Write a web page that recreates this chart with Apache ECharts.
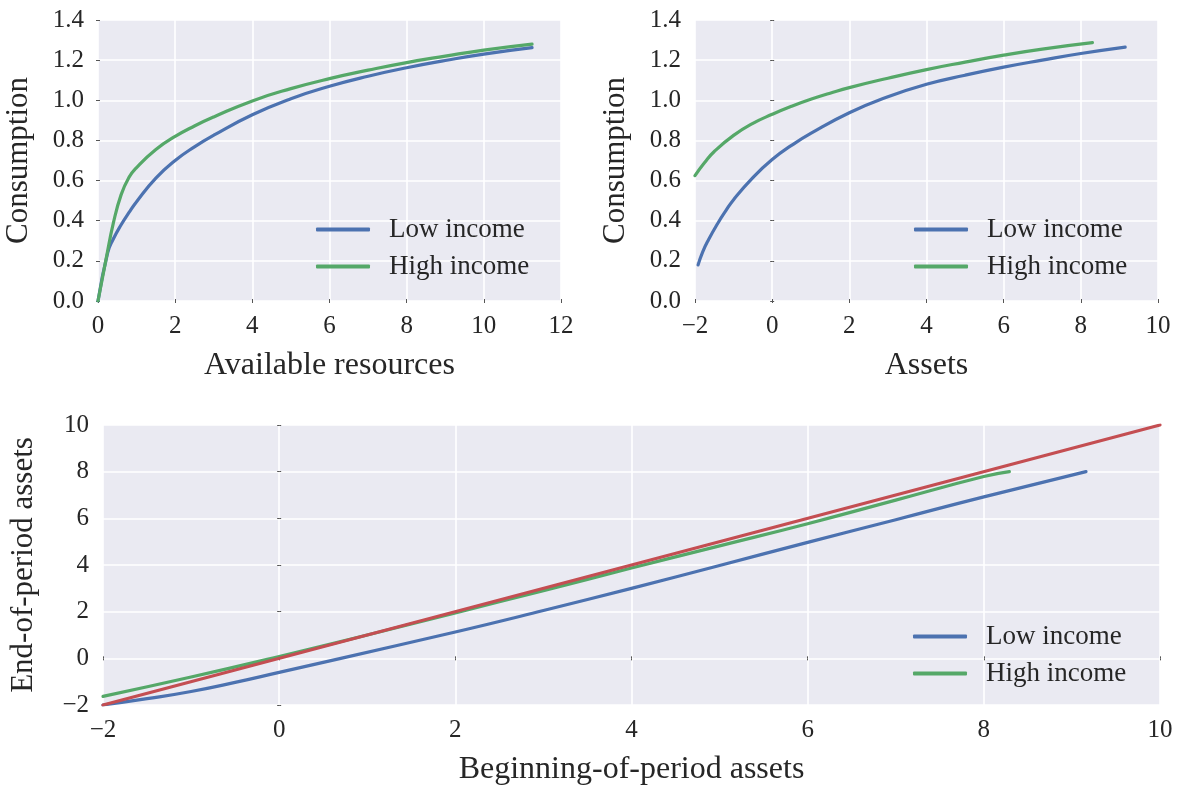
<!DOCTYPE html>
<html>
<head>
<meta charset="utf-8">
<script src="https://cdn.jsdelivr.net/npm/echarts@6/dist/echarts.min.js"></script>
<style>
  html, body { margin: 0; padding: 0; background: #ffffff; }
  #chart { width: 1178px; height: 787px; }
</style>
</head>
<body>
<div id="chart"></div>
<script>
// Consumption as a function of available resources (cash on hand)
const resLow = [0, 0.25, 0.4, 0.6, 0.8, 1.0, 1.5, 2.0, 2.5, 3, 4, 5, 6, 7, 8, 9, 10, 11.25];
const consResLow = [0, 0.24, 0.31, 0.38, 0.44, 0.495, 0.612, 0.70, 0.768, 0.826, 0.928, 1.008, 1.07, 1.12, 1.162, 1.198, 1.23, 1.262];
const resHigh = [0, 0.2, 0.4, 0.6, 0.8, 1.0, 1.5, 2.0, 2.5, 3, 4, 5, 6, 7, 8, 9, 10, 11.25];
const consResHigh = [0, 0.2, 0.39, 0.53, 0.615, 0.665, 0.755, 0.82, 0.872, 0.917, 0.997, 1.058, 1.108, 1.15, 1.188, 1.22, 1.25, 1.28];

// Consumption as a function of assets
const assetsLow = [-1.92, -1.8, -1.65, -1.4, -1.2, -1.0, -0.5, 0, 0.5, 1, 2, 3, 4, 5, 6, 7, 8, 9.15];
const consAssetsLow = [0.18, 0.245, 0.305, 0.39, 0.45, 0.505, 0.615, 0.705, 0.775, 0.835, 0.938, 1.018, 1.08, 1.125, 1.165, 1.2, 1.233, 1.265];
const assetsHigh = [-2, -1.75, -1.5, -1, -0.5, 0, 0.5, 1, 1.5, 2, 3, 4, 5, 6, 7, 8.3];
const consAssetsHigh = [0.625, 0.69, 0.745, 0.825, 0.885, 0.93, 0.97, 1.005, 1.035, 1.063, 1.11, 1.153, 1.19, 1.225, 1.255, 1.287];

// Savings rule: end-of-period assets vs beginning-of-period assets
const beginLow = [-2, -1.5, -1, -0.5, 0, 0.7, 2, 3, 4, 5, 6, 7, 8, 9.16];
const endLow = [-2, -1.73, -1.42, -1.03, -0.6, 0.0, 1.13, 2.05, 3.0, 3.98, 4.97, 5.94, 6.92, 8.0];
const beginHigh = [-2, -1, 0, 1, 2, 3, 4, 5, 6, 7, 8, 8.29];
const endHigh = [-1.63, -0.8, 0.08, 1.0, 1.95, 2.9, 3.87, 4.82, 5.77, 6.78, 7.79, 8.0];
const diagBegin = [-2, 10];
const diagEnd = [-2, 10];

const seriesNames = ['Low income', 'High income'];
const xTitles = ['Available resources', 'Assets', 'Beginning-of-period assets'];
const yTitles = ['Consumption', 'Consumption', 'End-of-period assets'];

const BLUE = '#4C72B0', GREEN = '#55A868', RED = '#C44E52';
const TXT = '#262626';
const FONT = '"Liberation Serif", "DejaVu Serif", serif';

const pairs = (xs, ys) => xs.map((x, i) => [x, ys[i]]);
const minus = v => String(v).replace('-', '\u2212');

const grids = [
  { left: 98, top: 20, width: 463, height: 281 },
  { left: 695, top: 20, width: 463, height: 281 },
  { left: 98, top: 425, width: 1062, height: 282 }
];
const xRanges = [[0, 12, 2], [-2, 10, 2], [-2, 10, 2]];
const yRanges = [[0, 1.4, 0.2], [0, 1.4, 0.2], [-2, 10, 2]];

const tick = { show: true, length: 2, inside: false, lineStyle: { color: '#555', width: 1 } };

const xAxis = [], yAxis = [];
grids.forEach((g, i) => {
  const [xmin, xmax, xint] = xRanges[i];
  const [ymin, ymax, yint] = yRanges[i];
  xAxis.push({
    type: 'value', gridIndex: i, position: 'bottom', min: xmin, max: xmax, interval: xint,
    name: xTitles[i], nameLocation: 'middle', nameGap: 49,
    nameTextStyle: { fontFamily: FONT, fontSize: 32, color: TXT },
    axisLine: { show: false }, axisTick: tick,
    axisLabel: { fontFamily: FONT, fontSize: 25, color: TXT, margin: 13, formatter: v => minus(v) },
    splitLine: { show: true, lineStyle: { color: '#ffffff', width: 1.6 } }
  });
  xAxis.push({
    type: 'value', gridIndex: i, position: 'top', min: xmin, max: xmax, interval: xint,
    axisLine: { show: false }, axisTick: tick, axisLabel: { show: false }, splitLine: { show: false }
  });
  yAxis.push({
    type: 'value', gridIndex: i, position: 'left', min: ymin, max: ymax, interval: yint,
    name: yTitles[i], nameLocation: 'middle', nameGap: 64,
    nameTextStyle: { fontFamily: FONT, fontSize: 31, color: TXT },
    axisLine: { show: false }, axisTick: tick,
    axisLabel: {
      fontFamily: FONT, fontSize: 25, color: TXT, margin: 14,
      formatter: v => (i < 2 ? v.toFixed(1) : minus(v))
    },
    splitLine: { show: true, lineStyle: { color: '#ffffff', width: 1.6 } }
  });
  yAxis.push({
    type: 'value', gridIndex: i, position: 'right', min: ymin, max: ymax, interval: yint,
    axisLine: { show: false }, axisTick: tick, axisLabel: { show: false }, splitLine: { show: false }
  });
});

const line = (name, data, color, panel) => ({
  type: 'line', name, data,
  xAxisIndex: panel * 2, yAxisIndex: panel * 2,
  showSymbol: false, symbol: 'none',
  smooth: 0.5,
  lineStyle: { color, width: 3.2, cap: 'round', join: 'round' },
  itemStyle: { color },
  emphasis: { disabled: true }
});

const series = [
  line('Low income', pairs(resLow, consResLow), BLUE, 0),
  line('High income', pairs(resHigh, consResHigh), GREEN, 0),
  line('Low income', pairs(assetsLow, consAssetsLow), BLUE, 1),
  line('High income', pairs(assetsHigh, consAssetsHigh), GREEN, 1),
  line('Low income', pairs(beginLow, endLow), BLUE, 2),
  line('High income', pairs(beginHigh, endHigh), GREEN, 2),
  line('45 degree', pairs(diagBegin, diagEnd), RED, 2)
];

const legend = (left, top) => ({
  data: seriesNames, orient: 'vertical', left, top,
  icon: 'roundRect', itemWidth: 54, itemHeight: 4, itemGap: 10,
  textStyle: { fontFamily: FONT, fontSize: 27, color: TXT, lineHeight: 27, padding: [0, 0, 0, 14] },
  selectedMode: false
});

const chart = echarts.init(document.getElementById('chart'), null, { renderer: 'canvas' });
chart.setOption({
  animation: false,
  backgroundColor: '#ffffff',
  grid: grids.map(g => Object.assign({ show: true, backgroundColor: '#EAEAF2', borderWidth: 0 }, g)),
  xAxis, yAxis,
  legend: [legend(311, 211), legend(909, 211), legend(908, 618)],
  series
});
</script>
</body>
</html>
